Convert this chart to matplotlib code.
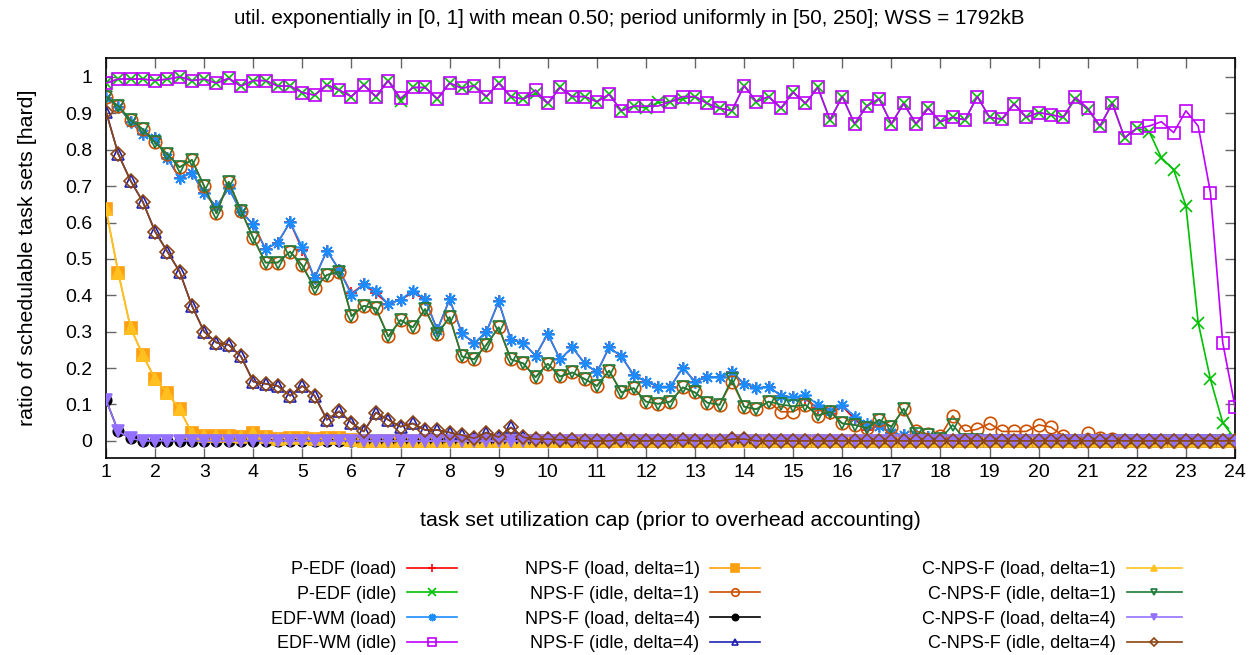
import numpy as np
import matplotlib.pyplot as plt

plt.rcParams['font.family'] = ['Liberation Sans', 'DejaVu Sans']

# task set utilization cap, sampled every 0.25 from 1 to 24
util_cap = np.arange(1, 24.01, 0.25)

edfwm_idle = [0.983, 0.994, 0.994, 0.994,
              0.99, 0.994, 1.0, 0.99,
              0.994, 0.983, 0.996, 0.975,
              0.99, 0.99, 0.975, 0.975,
              0.957, 0.95, 0.978, 0.964,
              0.946, 0.978, 0.946, 0.99,
              0.941, 0.971, 0.971, 0.94,
              0.983, 0.969, 0.976, 0.946,
              0.983, 0.946, 0.939, 0.964,
              0.927, 0.971, 0.946, 0.946,
              0.932, 0.952, 0.907, 0.92,
              0.92, 0.92, 0.932, 0.946,
              0.946, 0.927, 0.914, 0.907,
              0.976, 0.932, 0.946, 0.914,
              0.958, 0.927, 0.971, 0.882,
              0.946, 0.871, 0.92, 0.94,
              0.871, 0.927, 0.871, 0.914,
              0.877, 0.889, 0.882, 0.946,
              0.889, 0.884, 0.926, 0.889,
              0.902, 0.896, 0.889, 0.944,
              0.914, 0.865, 0.927, 0.833,
              0.859, 0.865, 0.877, 0.847,
              0.907, 0.865, 0.682, 0.27,
              0.094]

pedf_idle = [0.983, 0.994, 0.994, 0.994,
             0.99, 0.994, 1.0, 0.99,
             0.994, 0.983, 0.996, 0.975,
             0.99, 0.99, 0.975, 0.975,
             0.957, 0.95, 0.978, 0.964,
             0.946, 0.978, 0.946, 0.99,
             0.935, 0.971, 0.971, 0.94,
             0.983, 0.969, 0.976, 0.946,
             0.983, 0.946, 0.939, 0.955,
             0.927, 0.971, 0.946, 0.946,
             0.932, 0.952, 0.907, 0.92,
             0.915, 0.93, 0.932, 0.94,
             0.946, 0.927, 0.914, 0.907,
             0.976, 0.932, 0.946, 0.914,
             0.958, 0.927, 0.971, 0.882,
             0.946, 0.871, 0.92, 0.94,
             0.871, 0.927, 0.871, 0.914,
             0.877, 0.889, 0.882, 0.946,
             0.889, 0.884, 0.926, 0.889,
             0.902, 0.896, 0.889, 0.94,
             0.91, 0.865, 0.927, 0.833,
             0.859, 0.85, 0.778, 0.745,
             0.646, 0.325, 0.169, 0.05,
             0.005]

edfwm_load = [0.941, 0.918, 0.877, 0.843,
              0.831, 0.777, 0.722, 0.737,
              0.68, 0.644, 0.694, 0.63,
              0.595, 0.527, 0.545, 0.601,
              0.532, 0.447, 0.523, 0.47,
              0.401, 0.43, 0.413, 0.376,
              0.388, 0.413, 0.389, 0.305,
              0.389, 0.296, 0.268, 0.3,
              0.383, 0.277, 0.27, 0.234,
              0.294, 0.224, 0.257, 0.213,
              0.188, 0.257, 0.232, 0.181,
              0.163, 0.149, 0.149, 0.201,
              0.163, 0.175, 0.175, 0.19,
              0.157, 0.145, 0.149, 0.124,
              0.12, 0.126, 0.099, 0.083,
              0.099, 0.067, 0.047, 0.041,
              0.021, 0.016, 0.016, 0.012,
              0.005, 0, 0, 0,
              0, 0, 0, 0,
              0, 0, 0, 0,
              0, 0, 0, 0,
              0, 0, 0, 0,
              0, 0, 0, 0,
              0]

pedf_load = [0.941, 0.918, 0.877, 0.843,
             0.831, 0.777, 0.722, 0.737,
             0.68, 0.644, 0.694, 0.63,
             0.595, 0.527, 0.545, 0.601,
             0.525, 0.447, 0.523, 0.47,
             0.405, 0.43, 0.405, 0.376,
             0.388, 0.407, 0.389, 0.305,
             0.389, 0.296, 0.268, 0.3,
             0.383, 0.277, 0.27, 0.234,
             0.294, 0.224, 0.257, 0.213,
             0.188, 0.257, 0.232, 0.181,
             0.163, 0.149, 0.149, 0.201,
             0.163, 0.175, 0.175, 0.19,
             0.157, 0.145, 0.149, 0.124,
             0.12, 0.115, 0.09, 0.075,
             0.095, 0.06, 0.03, 0.041,
             0.021, 0.016, 0.016, 0.012,
             0.005, 0, 0, 0,
             0, 0, 0, 0,
             0, 0, 0, 0,
             0, 0, 0, 0,
             0, 0, 0, 0,
             0, 0, 0, 0,
             0]

npsf_idle_d1 = [0.946, 0.92, 0.882, 0.856,
                0.82, 0.788, 0.752, 0.772,
                0.70, 0.625, 0.712, 0.633,
                0.557, 0.49, 0.49, 0.52,
                0.482, 0.419, 0.456, 0.465,
                0.343, 0.371, 0.364, 0.287,
                0.332, 0.312, 0.362, 0.294,
                0.34, 0.232, 0.224, 0.264,
                0.312, 0.224, 0.213, 0.175,
                0.212, 0.177, 0.188, 0.17,
                0.151, 0.193, 0.133, 0.145,
                0.108, 0.102, 0.108, 0.147,
                0.133, 0.105, 0.099, 0.163,
                0.094, 0.087, 0.108, 0.08,
                0.08, 0.099, 0.069, 0.08,
                0.048, 0.044, 0.035, 0.058,
                0.039, 0.088, 0.026, 0.019,
                0.014, 0.069, 0.026, 0.032,
                0.048, 0.026, 0.026, 0.026,
                0.044, 0.038, 0.014, 0.001,
                0.021, 0.007, 0.005, 0,
                0, 0, 0, 0,
                0, 0, 0, 0,
                0]

cnpsf_idle_d1 = [0.946, 0.92, 0.882, 0.856,
                 0.82, 0.788, 0.752, 0.772,
                 0.70, 0.625, 0.712, 0.633,
                 0.557, 0.49, 0.49, 0.52,
                 0.482, 0.419, 0.456, 0.465,
                 0.343, 0.371, 0.364, 0.287,
                 0.332, 0.312, 0.362, 0.294,
                 0.34, 0.232, 0.224, 0.264,
                 0.312, 0.224, 0.213, 0.175,
                 0.212, 0.177, 0.188, 0.17,
                 0.151, 0.193, 0.133, 0.145,
                 0.108, 0.102, 0.108, 0.147,
                 0.133, 0.105, 0.099, 0.17,
                 0.094, 0.087, 0.108, 0.1,
                 0.095, 0.099, 0.07, 0.08,
                 0.048, 0.044, 0.035, 0.058,
                 0.039, 0.088, 0.02, 0.015,
                 0.005, 0.044, 0.003, 0.003,
                 0, 0, 0, 0,
                 0, 0, 0, 0,
                 0, 0, 0, 0,
                 0, 0, 0, 0,
                 0, 0, 0, 0,
                 0]

npsf_load_d1 = [0.636, 0.462, 0.311, 0.236,
                0.17, 0.131, 0.087, 0.021,
                0.014, 0.014, 0.014, 0.01,
                0.021, 0.01, 0.005, 0.008,
                0.008, 0.004, 0.008, 0.008,
                0.002] + [0] * 72

npsf_load_d4 = [0.113, 0.026, 0.007] + [0] * 90

npsf_idle_d4 = [0.905, 0.788, 0.715, 0.657,
                0.575, 0.52, 0.465, 0.371,
                0.3, 0.27, 0.264, 0.232,
                0.163, 0.157, 0.151, 0.124,
                0.151, 0.124, 0.058, 0.081,
                0.05, 0.026, 0.078, 0.058,
                0.039, 0.048, 0.03, 0.03,
                0.023, 0.016, 0.007, 0.023,
                0.01, 0.037, 0.01, 0.005,
                0.005, 0.003, 0.003, 0,
                0, 0, 0.003, 0,
                0, 0, 0, 0.002,
                0, 0, 0, 0.005,
                0.005, 0, 0, 0] + [0] * 37

series = [
    ('P-EDF (load)', pedf_load, '#ff0000', '+', 'full'),
    ('P-EDF (idle)', pedf_idle, '#00c000', 'x', 'full'),
    ('EDF-WM (load)', edfwm_load, '#1a8cff', (8, 2, 0), 'full'),
    ('EDF-WM (idle)', edfwm_idle, '#c000ff', 's', 'none'),
    ('NPS-F (load, delta=1)', npsf_load_d1, '#ffa010', 's', 'full'),
    ('NPS-F (idle, delta=1)', npsf_idle_d1, '#cc5000', 'o', 'none'),
    ('NPS-F (load, delta=4)', npsf_load_d4, '#000000', 'o', 'full'),
    ('NPS-F (idle, delta=4)', npsf_idle_d4, '#2020b0', '^', 'none'),
    ('C-NPS-F (load, delta=1)', npsf_load_d1, '#ffc020', '^', 'full'),
    ('C-NPS-F (idle, delta=1)', cnpsf_idle_d1, '#1e7b3a', 'v', 'none'),
    ('C-NPS-F (load, delta=4)', npsf_load_d4, '#9370ff', 'v', 'full'),
    ('C-NPS-F (idle, delta=4)', npsf_idle_d4, '#8b4513', 'D', 'none'),
]

fig = plt.figure(figsize=(12.58, 6.55), dpi=100)
ax = fig.add_axes([106 / 1258, 1 - 458 / 655, (1235 - 106) / 1258, 400 / 655])

handles = []
for i, (name, vals, col, mk, fill) in enumerate(series):
    ms = 9
    if mk in ('^', 'v'):
        ms = 8
    if mk == 'D':
        ms = 7
    if mk == 'o' and fill == 'full':
        ms = 7.5
    h, = ax.plot(util_cap, vals, color=col, marker=mk, fillstyle=fill,
                 markersize=ms, markeredgewidth=1.2, linewidth=1.2,
                 label=name, zorder=2 + i)
    handles.append(h)

ax.set_xlim(1, 24)
ax.set_ylim(-0.047, 1.052)
ax.set_xticks(range(1, 25))
yt = [0, 0.1, 0.2, 0.3, 0.4, 0.5, 0.6, 0.7, 0.8, 0.9, 1]
ax.set_yticks(yt)
ax.set_yticklabels(['0', '0.1', '0.2', '0.3', '0.4', '0.5', '0.6', '0.7',
                    '0.8', '0.9', '1'])
ax.tick_params(direction='in', length=7, width=1, color='#666666',
               top=True, right=True, labelsize=14)
ax.tick_params(axis='x', pad=4)
ax.tick_params(axis='y', pad=10)
for s in ax.spines.values():
    s.set_linewidth(1.2)

fig.text(0.5, 1 - 18 / 655,
         'util. exponentially in [0, 1] with mean 0.50; period uniformly in [50, 250]; WSS = 1792kB',
         fontsize=14.8, ha='center', va='center')
ax.set_xlabel('task set utilization cap (prior to overhead accounting)',
              fontsize=15.4, labelpad=22)
ax.set_ylabel('ratio of schedulable task sets [hard]', fontsize=15.4, labelpad=20)

anchors = [457, 760, 1182]
hlens = [2.75, 2.75, 3.05]
for c in range(3):
    leg = fig.legend(handles=handles[4 * c:4 * c + 4], loc='upper right',
                     bbox_to_anchor=(anchors[c] / 1258, 1 - 561 / 655),
                     frameon=False, markerfirst=False, fontsize=13,
                     handlelength=hlens[c], handletextpad=0.6, labelspacing=0.43,
                     borderpad=0, borderaxespad=0, markerscale=0.6)

fig.savefig('out.png', dpi=100)
